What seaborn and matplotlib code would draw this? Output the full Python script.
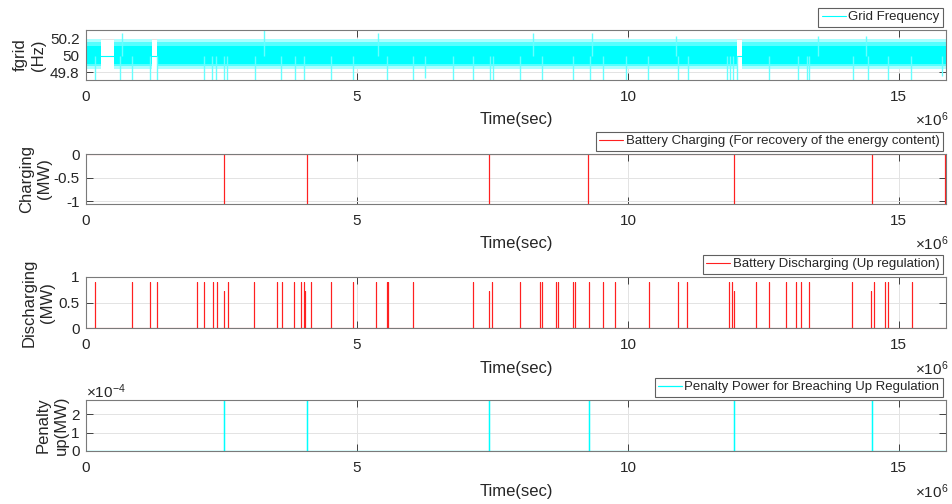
import numpy as np
import pandas as pd
import matplotlib
matplotlib.use("Agg")
import matplotlib.pyplot as plt
import seaborn as sns
from matplotlib.ticker import FixedLocator, FuncFormatter

# ---------------- data (time in seconds) ----------------
x_max = 15.87e6

# grid frequency: nominal level, data segments and band envelopes
freq_nominal = 50.0
freq_seg_start = [0.0, 0.517e6, 1.304e6, 12.11e6]
freq_seg_end = [0.271e6, 1.223e6, 12.02e6, 15.87e6]
freq_core = [49.90, 50.12]
freq_mid = [49.87, 50.16]
freq_outer = [49.84, 50.20]
freq_dip_times = [0.166e6, 0.627e6, 0.843e6, 1.175e6, 1.304e6, 2.177e6, 2.325e6, 2.393e6,
                  2.546e6, 2.607e6, 3.112e6, 3.592e6, 3.851e6, 4.022e6, 4.515e6, 4.932e6,
                  5.548e6, 6.028e6, 6.255e6, 6.777e6, 7.146e6, 7.454e6, 7.504e6, 8.007e6,
                  8.408e6, 8.991e6, 9.299e6, 9.545e6, 9.963e6, 10.375e6, 10.928e6, 11.101e6,
                  11.82e6, 11.882e6, 11.944e6, 12.005e6, 12.601e6, 13.142e6, 13.297e6,
                  13.339e6, 14.157e6, 14.434e6, 14.803e6, 15.221e6, 15.799e6]
freq_dip_values = [49.71, 49.71, 49.71, 49.71, 49.71, 49.71, 49.71, 49.71,
                   49.71, 49.71, 49.71, 49.71, 49.71, 49.71, 49.71, 49.71,
                   49.71, 49.71, 49.736, 49.71, 49.71, 49.71, 49.71, 49.71,
                   49.71, 49.71, 49.71, 49.71, 49.71, 49.71, 49.71, 49.71,
                   49.71, 49.71, 49.71, 49.71, 49.71, 49.71, 49.71,
                   49.71, 49.71, 49.71, 49.71, 49.71, 49.75]
freq_peak_times = [0.664e6, 3.284e6, 5.387e6, 8.247e6, 9.336e6, 10.88e6, 13.506e6, 14.386e6]
freq_peak_values = [50.27, 50.31, 50.27, 50.27, 50.27, 50.24, 50.24, 50.24]

# battery charging (MW)
charge_times = [2.546e6, 4.077e6, 7.44e6, 9.262e6, 11.96e6, 14.5e6, 15.86e6]
charge_values = [-1.06, -1.06, -1.06, -1.06, -1.06, -1.06, -1.06]

# battery discharging (MW)
discharge_times = [0.166e6, 0.843e6, 1.181e6, 1.304e6, 2.042e6, 2.183e6, 2.349e6, 2.411e6,
                   2.552e6, 2.614e6, 3.105e6, 3.530e6, 3.616e6, 3.843e6, 3.967e6, 4.022e6,
                   4.041e6, 4.151e6, 4.520e6, 4.921e6, 5.345e6, 5.548e6, 5.578e6, 6.028e6,
                   7.146e6, 7.441e6, 7.496e6, 8.007e6, 8.376e6, 8.408e6, 8.672e6, 8.703e6,
                   8.991e6, 9.022e6, 9.280e6, 9.545e6, 9.766e6, 10.387e6, 10.928e6, 11.094e6,
                   11.869e6, 11.913e6, 11.956e6, 12.362e6, 12.601e6, 12.915e6, 13.100e6,
                   13.192e6, 13.334e6, 14.138e6, 14.489e6, 14.539e6, 14.742e6, 14.803e6,
                   15.234e6]
discharge_values = [0.9, 0.9, 0.9, 0.9, 0.9, 0.9, 0.9, 0.9,
                    0.72, 0.91, 0.9, 0.9, 0.9, 0.9, 0.9, 0.9,
                    0.72, 0.9, 0.9, 0.9, 0.9, 0.9, 0.9, 0.9,
                    0.9, 0.73, 0.9, 0.9, 0.9, 0.9, 0.9, 0.9,
                    0.9, 0.9, 0.9, 0.9, 0.9, 0.9, 0.9, 0.9,
                    0.9, 0.9, 0.73, 0.9, 0.9, 0.9, 0.9,
                    0.9, 0.9, 0.9, 0.72, 0.9, 0.9, 0.9,
                    0.9]

# penalty power (MW)
penalty_times = [2.552e6, 4.072e6, 7.441e6, 9.280e6, 11.961e6, 14.507e6]
penalty_values = [2.78e-4, 2.78e-4, 2.78e-4, 2.78e-4, 2.78e-4, 2.78e-4]

x_ticks = [0, 5e6, 10e6, 15e6]

# ---------------- style ----------------
sns.set_theme(style="ticks")
plt.rcParams["font.family"] = ["Liberation Sans", "DejaVu Sans"]
plt.rcParams["axes.unicode_minus"] = False
plt.rcParams["mathtext.fontset"] = "custom"
plt.rcParams["mathtext.rm"] = "Liberation Sans"
plt.rcParams["mathtext.it"] = "Liberation Sans"

CYAN = "#00ffff"
RED = "#ff2020"
TXT = "#262626"

fig = plt.figure(figsize=(9.52, 5.04), dpi=100)
W, H = 952.0, 504.0
left_px, right_px = 86, 946
panels_px = [(30, 80), (154, 204), (277, 328), (400, 451)]
axes = []
for top, bot in panels_px:
    ax = fig.add_axes([left_px / W, 1 - bot / H, (right_px - left_px) / W, (bot - top) / H])
    axes.append(ax)


def spike_frame(times, values, x_end):
    xs, ys = [0.0], [0.0]
    for t, v in sorted(zip(times, values)):
        xs += [t, t, t]
        ys += [0.0, v, 0.0]
    xs.append(x_end)
    ys.append(0.0)
    return pd.DataFrame({"t": xs, "v": ys})


def style_axes(ax, ylim, yticks, ylabel, label_x):
    ax.set_xlim(0, x_max)
    ax.set_ylim(*ylim)
    ax.xaxis.set_major_locator(FixedLocator(x_ticks))
    ax.xaxis.set_major_formatter(FuncFormatter(lambda v, p: "%g" % (v / 1e6)))
    ax.yaxis.set_major_locator(FixedLocator(yticks))
    ax.set_axisbelow(True)
    ax.grid(True, color="#e3e3e3", lw=0.7)
    for s in ax.spines.values():
        s.set_visible(True)
        s.set_color("#7a7a7a")
        s.set_linewidth(0.8)
    ax.tick_params(axis="both", direction="in", top=True, right=True, length=5,
                   width=0.7, color="#404040", labelsize=11, labelcolor=TXT)
    ax.tick_params(axis="x", pad=7.5)
    ax.tick_params(axis="y", pad=4.5)
    ax.set_xlabel("Time(sec)", fontsize=12, color=TXT)
    ax.xaxis.set_label_coords(0.5, -0.64)
    ax.set_ylabel(ylabel, fontsize=12, color=TXT, linespacing=1.25)
    ax.yaxis.set_label_coords(label_x, 0.5)
    ax.text(1.003, -0.80, r"$\times10^{6}$", transform=ax.transAxes, ha="right",
            va="center", fontsize=11, color=TXT)


def add_legend(ax):
    leg = ax.legend(loc="lower right", bbox_to_anchor=(1.0, 1.0), fontsize=9.5,
                    frameon=True, fancybox=False, borderpad=0.25, borderaxespad=0.25,
                    handlelength=1.8, handletextpad=0.2, framealpha=1.0)
    leg.get_frame().set_edgecolor("#606060")
    leg.get_frame().set_linewidth(0.8)
    for t in leg.get_texts():
        t.set_color(TXT)


# ---- panel 1: grid frequency ----
ax = axes[0]
nominal = pd.DataFrame({"t": [0.0, x_max], "f": [freq_nominal, freq_nominal]})
sns.lineplot(data=nominal, x="t", y="f", color=CYAN, lw=0.8, ax=ax, label="Grid Frequency")
for s, e in zip(freq_seg_start, freq_seg_end):
    ax.fill_between([s, e], freq_outer[0], freq_outer[1], color="#aaffff", lw=0)
    ax.fill_between([s, e], freq_mid[0], freq_mid[1], color="#55ffff", lw=0)
    ax.fill_between([s, e], freq_core[0], freq_core[1], color=CYAN, lw=0)
ax.vlines(freq_dip_times, freq_nominal, freq_dip_values, color="#66ffff", lw=1.0)
ax.vlines(freq_peak_times, freq_nominal, freq_peak_values, color="#66ffff", lw=1.0)
style_axes(ax, (49.708, 50.308), [49.8, 50.0, 50.2], "fgrid\n(Hz)", -0.047)
ax.yaxis.set_major_formatter(FuncFormatter(lambda v, p: "%g" % round(v, 3)))
add_legend(ax)

# ---- panel 2: charging ----
ax = axes[1]
sns.lineplot(data=spike_frame(charge_times, charge_values, x_max), x="t", y="v",
             sort=False, estimator=None, color=RED, lw=0.8, ax=ax,
             label="Battery Charging (For recovery of the energy content)")
style_axes(ax, (-1.06, 0.0), [-1.0, -0.5, 0.0], "Charging\n(MW)", -0.039)
ax.yaxis.set_major_formatter(FuncFormatter(lambda v, p: "%g" % v))
add_legend(ax)

# ---- panel 3: discharging ----
ax = axes[2]
sns.lineplot(data=spike_frame(discharge_times, discharge_values, x_max), x="t", y="v",
             sort=False, estimator=None, color=RED, lw=0.8, ax=ax,
             label="Battery Discharging (Up regulation)")
style_axes(ax, (0.0, 1.0), [0.0, 0.5, 1.0], "Discharging\n(MW)", -0.036)
ax.yaxis.set_major_formatter(FuncFormatter(lambda v, p: "%g" % v))
add_legend(ax)

# ---- panel 4: penalty ----
ax = axes[3]
sns.lineplot(data=spike_frame(penalty_times, penalty_values, x_max), x="t", y="v",
             sort=False, estimator=None, color=CYAN, lw=0.9, ax=ax,
             label="Penalty Power for Breaching Up Regulation")
style_axes(ax, (0.0, 2.78e-4), [0.0, 1e-4, 2e-4], "Penalty\nup(MW)", -0.020)
ax.yaxis.set_major_formatter(FuncFormatter(lambda v, p: "%g" % round(v / 1e-4, 6)))
ax.text(0.0, 0.985, r"$\times10^{-4}$", transform=ax.transAxes, ha="left", va="bottom",
        fontsize=11, color=TXT)
add_legend(ax)

fig.savefig("out.png", dpi=100, facecolor="white")
